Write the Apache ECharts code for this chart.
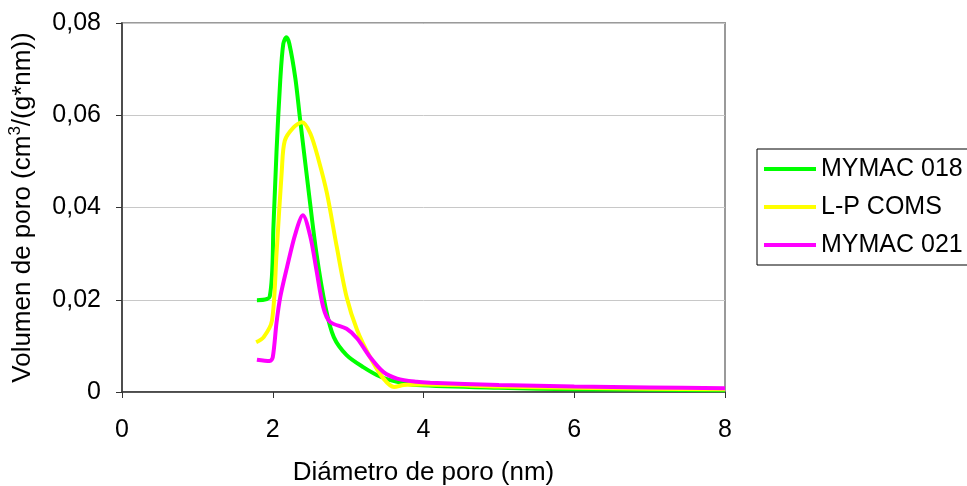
<!DOCTYPE html>
<html>
<head>
<meta charset="utf-8">
<script src="https://cdn.jsdelivr.net/npm/echarts@6/dist/echarts.min.js"></script>
<style>
html,body{margin:0;padding:0;background:#fff;}
#c{width:967px;height:486px;}
</style>
</head>
<body>
<div id="c"></div>
<script>
// ---- data ----
var seriesNames = ['MYMAC 018', 'L-P COMS', 'MYMAC 021'];

var xMymac018 = [1.79, 1.96, 2.01, 2.05, 2.10, 2.14, 2.18, 2.22, 2.30, 2.36, 2.47, 2.58, 2.70, 2.81, 2.98, 3.20, 3.43, 3.65, 3.91, 5, 6, 7, 8];
var yMymac018 = [0.0199, 0.0207, 0.0362, 0.0521, 0.0677, 0.0755, 0.0769, 0.0755, 0.0680, 0.0595, 0.0444, 0.0300, 0.0184, 0.0119, 0.0080, 0.0054, 0.0033, 0.0022, 0.0015, 0.0009, 0.0006, 0.0005, 0.0004];

var xLPCOMS = [1.78, 1.88, 1.99, 2.05, 2.12, 2.16, 2.28, 2.39, 2.50, 2.61, 2.72, 2.85, 2.98, 3.12, 3.29, 3.47, 3.61, 3.74, 4, 5, 6, 7, 8];
var yLPCOMS = [0.0108, 0.0119, 0.0155, 0.0300, 0.0480, 0.0545, 0.0574, 0.0585, 0.0560, 0.0502, 0.0430, 0.0314, 0.0206, 0.0134, 0.0076, 0.0029, 0.0011, 0.0015, 0.0016, 0.0012, 0.0009, 0.0007, 0.0006];

var xMymac021 = [1.79, 1.96, 2.00, 2.05, 2.10, 2.19, 2.30, 2.40, 2.50, 2.58, 2.67, 2.76, 2.98, 3.12, 3.29, 3.47, 3.65, 3.91, 4.09, 5, 6, 7, 8];
var yMymac021 = [0.0070, 0.0067, 0.0075, 0.0150, 0.0206, 0.0271, 0.0343, 0.0383, 0.0336, 0.0264, 0.0184, 0.0152, 0.0137, 0.0116, 0.0076, 0.0043, 0.0029, 0.0022, 0.0020, 0.0015, 0.0012, 0.0010, 0.0008];

var xTickValues = [0, 2, 4, 6, 8];
var xTickLabels = ['0', '2', '4', '6', '8'];
var yTickValues = [0, 0.02, 0.04, 0.06, 0.08];
var yTickLabels = ['0', '0,02', '0,04', '0,06', '0,08'];

var colors = ['#00ff00', '#ffff00', '#ff00ff'];

function pairs(xs, ys) {
  var out = [];
  for (var i = 0; i < xs.length; i++) out.push([xs[i], ys[i]]);
  return out;
}
function labelFor(values, labels, v) {
  for (var i = 0; i < values.length; i++) if (Math.abs(values[i] - v) < 1e-9) return labels[i];
  return '';
}

var FONT = 'Liberation Sans, Arial, sans-serif';
var FS = 25;
var FT = 26;

var chart = echarts.init(document.getElementById('c'), null, {renderer: 'canvas'});
chart.setOption({
  backgroundColor: '#ffffff',
  animation: false,
  textStyle: {fontFamily: FONT, color: '#000'},
  grid: {
    left: 122, right: 242, top: 23, bottom: 94,
    containLabel: false, outerBoundsMode: 'none',
    show: true, borderColor: '#9a9a9a', borderWidth: 2, backgroundColor: '#fff'
  },
  legend: {
    orient: 'vertical',
    left: 757, top: 149,
    data: seriesNames,
    icon: 'rect',
    itemWidth: 52, itemHeight: 4,
    itemGap: 10,
    padding: [6, 20, 6, 7],
    borderColor: '#000', borderWidth: 1,
    backgroundColor: '#fff',
    textStyle: {fontFamily: FONT, fontSize: FS, color: '#000', lineHeight: 28}
  },
  xAxis: {
    type: 'value', min: 0, max: 8, interval: 2,
    name: 'Diámetro de poro (nm)',
    nameLocation: 'middle', nameGap: 68,
    nameTextStyle: {fontFamily: FONT, fontSize: FT, color: '#000'},
    axisLine: {show: true, onZero: false, lineStyle: {color: '#333', width: 1.5}},
    axisTick: {show: true, inside: false, length: 6, lineStyle: {color: '#333'}},
    axisLabel: {fontFamily: FONT, fontSize: FS, color: '#000', margin: 26,
      formatter: function (v) { return labelFor(xTickValues, xTickLabels, v); }},
    splitLine: {show: false}
  },
  yAxis: {
    type: 'value', min: 0, max: 0.08, interval: 0.02,
    name: 'Volumen de poro (cm{sup|3}/(g*nm))',
    nameLocation: 'middle', nameGap: 84,
    nameTextStyle: {fontFamily: FONT, fontSize: FT, color: '#000',
      rich: {sup: {fontFamily: FONT, fontSize: 17, color: '#000', verticalAlign: 'top', padding: [0, 0, 14, 0]}}},
    axisLine: {show: true, lineStyle: {color: '#333', width: 1.5}},
    axisTick: {show: true, inside: false, length: 6, lineStyle: {color: '#333'}},
    axisLabel: {fontFamily: FONT, fontSize: FS, color: '#000', margin: 21,
      formatter: function (v) { return labelFor(yTickValues, yTickLabels, v); }},
    splitLine: {show: true, lineStyle: {color: '#c8c8c8', width: 1}}
  },
  series: [
    {name: seriesNames[0], type: 'line', data: pairs(xMymac018, yMymac018), smooth: 0.3,
     showSymbol: false, symbol: 'none', lineStyle: {width: 4, color: colors[0]}, itemStyle: {color: colors[0]}},
    {name: seriesNames[1], type: 'line', data: pairs(xLPCOMS, yLPCOMS), smooth: 0.3,
     showSymbol: false, symbol: 'none', lineStyle: {width: 4, color: colors[1]}, itemStyle: {color: colors[1]}},
    {name: seriesNames[2], type: 'line', data: pairs(xMymac021, yMymac021), smooth: 0.3,
     showSymbol: false, symbol: 'none', lineStyle: {width: 4, color: colors[2]}, itemStyle: {color: colors[2]}}
  ]
});
</script>
</body>
</html>
